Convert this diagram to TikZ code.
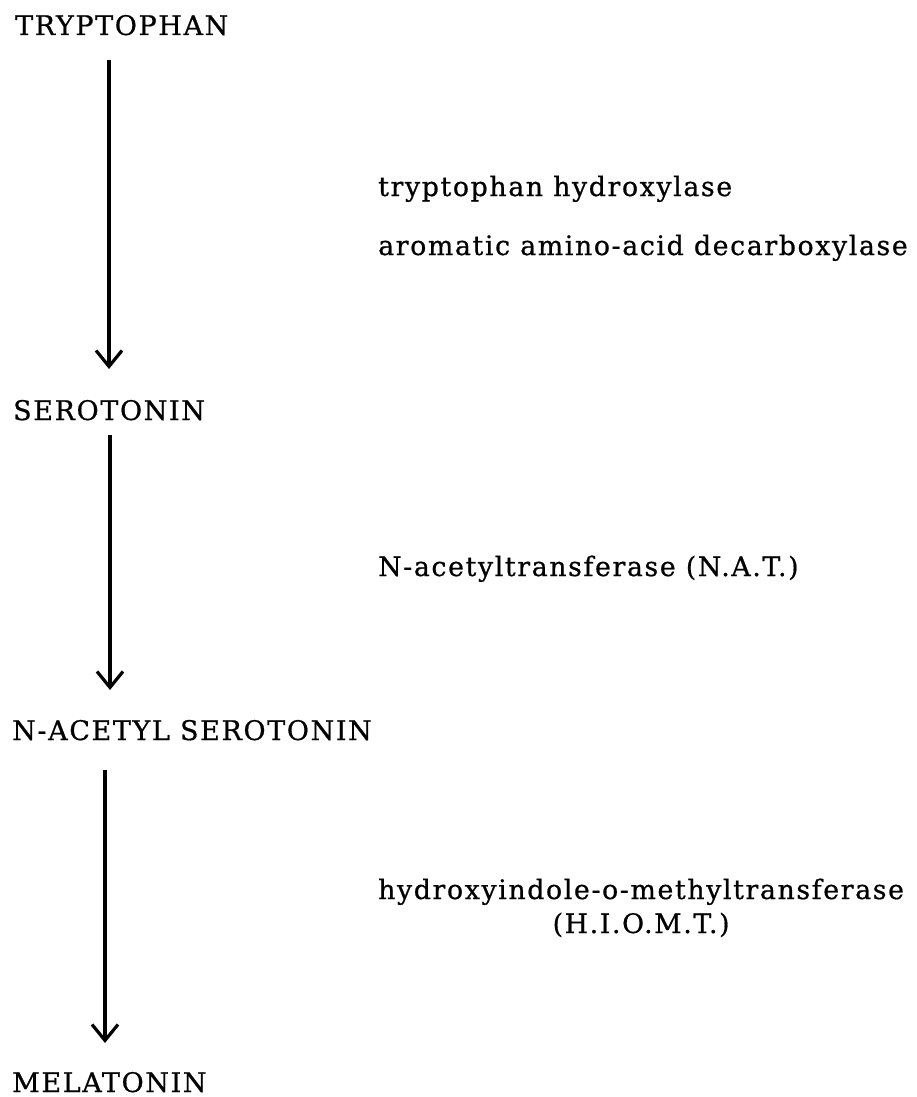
\documentclass[tikz,border=0pt]{standalone}
\usepackage{fontspec}
\setmainfont{DejaVu Serif}[FakeBold=0.7,LetterSpace=6]
\usetikzlibrary{arrows.meta}
\begin{document}
\begin{tikzpicture}[x=1pt,y=-1pt,
  lbl/.style={anchor=base west,inner sep=0pt,font=\fontsize{27}{30}\selectfont},
  enz/.style={anchor=base west,inner sep=0pt,font=\fontsize{26.8}{30}\selectfont},
  arr/.style={line width=3.2pt,-{Straight Barb[length=16pt,width=26pt,line width=3.2pt]}}]
\fill[white] (0,0) rectangle (917,1097);
\useasboundingbox (0,0) rectangle (917,1097);
% compounds
\node[lbl] (trp) at (15,35) {TRYPTOPHAN};
\node[lbl] (ser) at (13,420) {SEROTONIN};
\node[lbl] (nas) at (12,740) {N-ACETYL SEROTONIN};
\node[lbl] (mel) at (12,1092) {MELATONIN};
% enzymes
\node[enz] (th) at (378,196) {tryptophan hydroxylase};
\node[enz] (aad) at (378,255) {aromatic amino-acid decarboxylase};
\node[enz] (nat) at (378,576) {N-acetyltransferase (N.A.T.)};
\node[enz] (hiomt) at (378,899) {hydroxyindole-o-methyltransferase};
\node[enz,anchor=base] (hiomtab) at (hiomt.base) [yshift=-34pt] {(H.I.O.M.T.)};
% arrow end points
\coordinate (a1s) at (109,60);
\coordinate (a1e) at (109,369);
\coordinate (a2s) at (110,435);
\coordinate (a2e) at (110,690);
\coordinate (a3s) at (105,770);
\coordinate (a3e) at (105,1043);
\draw[arr] (a1s) -- (a1e);
\draw[arr] (a2s) -- (a2e);
\draw[arr] (a3s) -- (a3e);
\end{tikzpicture}
\end{document}
